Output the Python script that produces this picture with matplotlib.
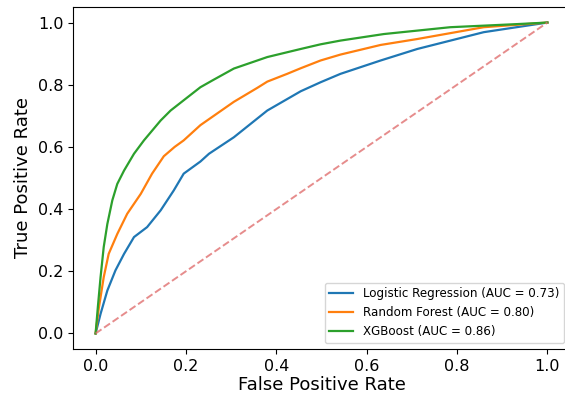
import matplotlib
matplotlib.use("Agg")
import matplotlib.pyplot as plt

# ROC points
lr_fpr = [0.0, 0.011, 0.026, 0.044, 0.063, 0.085, 0.114, 0.144, 0.173, 0.195,
          0.232, 0.251, 0.306, 0.343, 0.380, 0.454, 0.498, 0.542, 0.631,
          0.712, 0.859, 1.0]
lr_tpr = [0.0, 0.063, 0.138, 0.203, 0.256, 0.310, 0.342, 0.396, 0.460, 0.514,
          0.553, 0.578, 0.631, 0.674, 0.717, 0.779, 0.808, 0.835, 0.878,
          0.915, 0.969, 1.0]

rf_fpr = [0.0, 0.007, 0.018, 0.029, 0.048, 0.070, 0.100, 0.125, 0.151, 0.175,
          0.195, 0.232, 0.306, 0.358, 0.380, 0.424, 0.454, 0.498, 0.542,
          0.631, 0.712, 0.859, 1.0]
rf_tpr = [0.0, 0.080, 0.181, 0.256, 0.320, 0.385, 0.449, 0.514, 0.570, 0.600,
          0.621, 0.670, 0.745, 0.790, 0.810, 0.835, 0.853, 0.878, 0.897,
          0.928, 0.947, 0.985, 1.0]

xgb_fpr = [0.0, 0.005, 0.011, 0.018, 0.026, 0.037, 0.048, 0.063, 0.085, 0.107,
           0.144, 0.166, 0.195, 0.232, 0.260, 0.306, 0.358, 0.380, 0.454,
           0.498, 0.542, 0.638, 0.785, 0.933, 1.0]
xgb_tpr = [0.0, 0.085, 0.181, 0.278, 0.352, 0.428, 0.481, 0.524, 0.578, 0.621,
           0.685, 0.717, 0.750, 0.792, 0.815, 0.852, 0.878, 0.889, 0.915,
           0.930, 0.942, 0.963, 0.985, 0.995, 1.0]

models = ["Logistic Regression", "Random Forest", "XGBoost"]
aucs = [0.73, 0.80, 0.86]

fig = plt.figure(figsize=(5.65, 3.94), dpi=100)
ax = fig.add_axes([73 / 565, 45 / 394, 497 / 565, 342 / 394])

curves = [(lr_fpr, lr_tpr), (rf_fpr, rf_tpr), (xgb_fpr, xgb_tpr)]
for (fpr, tpr), name, auc in zip(curves, models, aucs):
    ax.plot(fpr, tpr, lw=1.6, label=f"{name} (AUC = {auc:.2f})")

ax.plot([0, 1], [0, 1], ls="--", color="#e07070", alpha=0.8, lw=1.4)

ax.set_xlabel("False Positive Rate", fontsize=13, labelpad=2)
ax.set_ylabel("True Positive Rate", fontsize=13)
ax.tick_params(labelsize=11.5)
ax.legend(loc="lower right", fontsize=8.6)

fig.savefig("out.png", dpi=100)
